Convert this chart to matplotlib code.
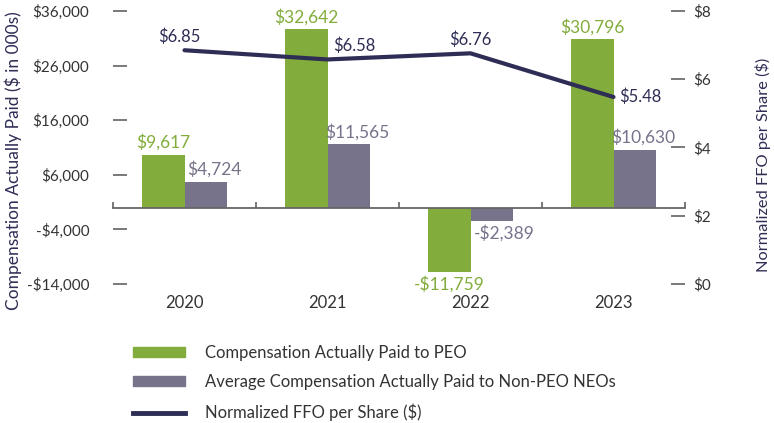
import matplotlib
matplotlib.use('Agg')
import matplotlib.pyplot as plt
from matplotlib.patches import Patch
from matplotlib.lines import Line2D

# chart data
years = ['2020', '2021', '2022', '2023']
peo_cap = [9617, 32642, -11759, 30796]
neo_cap = [4724, 11565, -2389, 10630]
ffo = [6.85, 6.58, 6.76, 5.48]

left_ticks = [-14000, -4000, 6000, 16000, 26000, 36000]
right_ticks = [0, 2, 4, 6, 8]

green = '#82ad3c'
grey = '#77738b'
navy = '#2e2d55'
txt = '#333333'

plt.rcParams['font.family'] = ['Lato', 'DejaVu Sans']

fig = plt.figure(figsize=(7.74, 4.23), dpi=100)
ax = fig.add_axes([113/774, 1-284/423, (685-113)/774, 273/423])
ax2 = ax.twinx()

x = list(range(len(years)))
w = 0.3
ax.bar([i - w/2 for i in x], peo_cap, width=w, color=green, zorder=2)
ax.bar([i + w/2 for i in x], neo_cap, width=w, color=grey, zorder=2)

def money(v):
    return ('-$' if v < 0 else '$') + f'{abs(v):,}'

for i in x:
    for xi, v, c, dx in [(i - w/2, peo_cap[i], green, 0), (i + w/2, neo_cap[i], grey, 6)]:
        if v >= 0:
            ax.annotate(money(v), (xi, v), xytext=(dx, 3), textcoords='offset points',
                        ha='center', va='bottom', color=c, fontsize=12.5)
        else:
            ax.annotate(money(v), (xi, v), xytext=(dx * 1.5, -3), textcoords='offset points',
                        ha='center', va='top', color=c, fontsize=12.5)

ax.set_xlim(-0.5, 3.5)
ax.set_ylim(-14000, 36000)
ax.set_yticks(left_ticks)
ax.set_yticklabels([money(v) for v in left_ticks])
ax.tick_params(axis='y', direction='in', length=10, width=1.1, color='#555555',
               pad=17, labelsize=11, labelcolor=txt)
for s in ['left', 'right', 'top']:
    ax.spines[s].set_visible(False)
ax.spines['bottom'].set_position(('data', 0))
ax.spines['bottom'].set_color('#666666')
ax.spines['bottom'].set_linewidth(1.3)
ax.set_xticks(x)
ax.set_xticks([-0.5, 0.5, 1.5, 2.5, 3.5], minor=True)
ax.tick_params(axis='x', which='major', length=0, labelbottom=False)
ax.tick_params(axis='x', which='minor', direction='in', length=4, width=1.1, color='#555555')
for i, y in zip(x, years):
    ax.text(i, -0.068, y, transform=ax.get_xaxis_transform(), ha='center', va='center',
            fontsize=12, color=txt)

# FFO line on right axis
ax2.plot(x, ffo, color=navy, lw=3, solid_capstyle='round', zorder=3)
label_off = [(-4, 4, 'center', 'bottom'), (4, 4, 'left', 'bottom'),
             (0, 4, 'center', 'bottom'), (4, 0, 'left', 'center')]
for i, v in enumerate(ffo):
    dx, dy, ha, va = label_off[i]
    ax2.annotate(f'${v:.2f}', (i, v), xytext=(dx, dy), textcoords='offset points',
                 ha=ha, va=va, color=navy, fontsize=12)
ax2.set_ylim(0, 8)
ax2.set_yticks(right_ticks)
ax2.set_yticklabels([f'${v}' for v in right_ticks])
ax2.tick_params(axis='y', direction='in', length=10, width=1.1, color='#555555',
                pad=6, labelsize=11, labelcolor=txt)
for s in ax2.spines.values():
    s.set_visible(False)

fig.text(13/774, 1-161/423, 'Compensation Actually Paid ($ in 000s)', rotation=90,
         ha='center', va='center', color=navy, fontsize=12.5)
fig.text(763/774, 1-165/423, 'Normalized FFO per Share ($)', rotation=90,
         ha='center', va='center', color=navy, fontsize=11.8)

handles = [Patch(color=green), Patch(color=grey), Line2D([0], [0], color=navy, lw=3.5)]
labels = ['Compensation Actually Paid to PEO',
          'Average Compensation Actually Paid to Non-PEO NEOs',
          'Normalized FFO per Share ($)']
fig.legend(handles, labels, loc='upper left', bbox_to_anchor=(133/774, 1-345/423),
           frameon=False, fontsize=12, handlelength=3.1, handleheight=0.55,
           handletextpad=1.2, labelspacing=0.8, borderpad=0, borderaxespad=0,
           labelcolor=txt)

fig.savefig('out.png', dpi=100)
